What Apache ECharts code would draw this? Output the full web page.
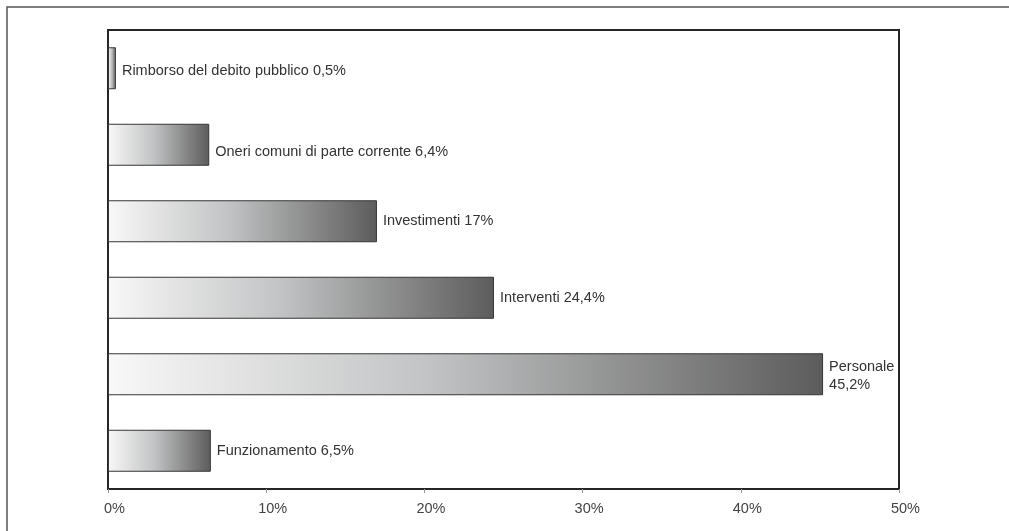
<!DOCTYPE html>
<html>
<head>
<meta charset="utf-8">
<script src="https://cdn.jsdelivr.net/npm/echarts@6/dist/echarts.min.js"></script>
<style>
  html, body { margin: 0; padding: 0; background: #ffffff; }
  #chart { width: 1009px; height: 531px; }
</style>
</head>
<body>
<div id="chart"></div>
<script>
// Spending categories, listed bottom to top
const categories = [
  'Funzionamento',
  'Personale',
  'Interventi',
  'Investimenti',
  'Oneri comuni di parte corrente',
  'Rimborso del debito pubblico'
];
// Share of total spending, percent
const shares = [6.5, 45.2, 24.4, 17, 6.4, 0.5];
// Axis ticks, percent
const tickValues = [0, 10, 20, 30, 40, 50];

const FONT = 'Liberation Sans, Arial, sans-serif';
const fmt = v => String(v).replace('.', ',') + '%';

// Per-label tweaks: Personale wraps onto two lines, a couple of labels sit a little low
const labelTweaks = {
  'Personale': { twoLines: true, offset: [0, 2] },
  'Oneri comuni di parte corrente': { offset: [0, 7] },
  'Rimborso del debito pubblico': { offset: [0, 3] }
};

const barFill = {
  type: 'linear', x: 0, y: 0, x2: 1, y2: 0,
  colorStops: [
    { offset: 0, color: '#f8f8f8' },
    { offset: 0.45, color: '#c2c3c4' },
    { offset: 1, color: '#5c5c5c' }
  ]
};

const chart = echarts.init(document.getElementById('chart'), null, { renderer: 'canvas' });

chart.setOption({
  animation: false,
  backgroundColor: '#ffffff',
  textStyle: { fontFamily: FONT },
  graphic: [{
    type: 'rect',
    shape: { x: 7, y: 7, width: 1010, height: 540 },
    style: { fill: 'none', stroke: '#555555', lineWidth: 1.5 },
    silent: true
  }],
  grid: {
    left: 108, right: 110, top: 30, bottom: 42,
    show: true, borderColor: '#262626', borderWidth: 2,
    backgroundColor: 'transparent'
  },
  xAxis: {
    type: 'value',
    min: tickValues[0],
    max: tickValues[tickValues.length - 1],
    interval: tickValues[1] - tickValues[0],
    axisLine: { show: true, lineStyle: { color: '#262626', width: 2 } },
    axisTick: { show: true, length: 4, lineStyle: { color: '#999999', width: 1 } },
    axisLabel: {
      formatter: v => v + '%',
      color: '#444444', fontSize: 14.5, margin: 12,
      padding: [0, 0, 0, 13],
      fontFamily: FONT
    },
    splitLine: { show: false }
  },
  yAxis: {
    type: 'category',
    data: categories,
    axisLine: { show: false },
    axisTick: { show: false },
    axisLabel: { show: false },
    splitLine: { show: false }
  },
  series: [{
    type: 'bar',
    barWidth: 42,
    data: shares.map((v, i) => {
      const name = categories[i];
      const t = labelTweaks[name];
      if (!t) return { value: v };
      const label = { offset: t.offset };
      if (t.twoLines) {
        label.formatter = name + '\n' + fmt(v);
        label.lineHeight = 18;
      }
      return { value: v, label };
    }),
    itemStyle: { color: barFill, borderColor: '#363636', borderWidth: 1 },
    label: {
      show: true,
      position: 'right',
      distance: 6,
      color: '#333333',
      fontSize: 14.5,
      fontFamily: FONT,
      formatter: p => categories[p.dataIndex] + ' ' + fmt(p.value)
    }
  }]
});
</script>
</body>
</html>
